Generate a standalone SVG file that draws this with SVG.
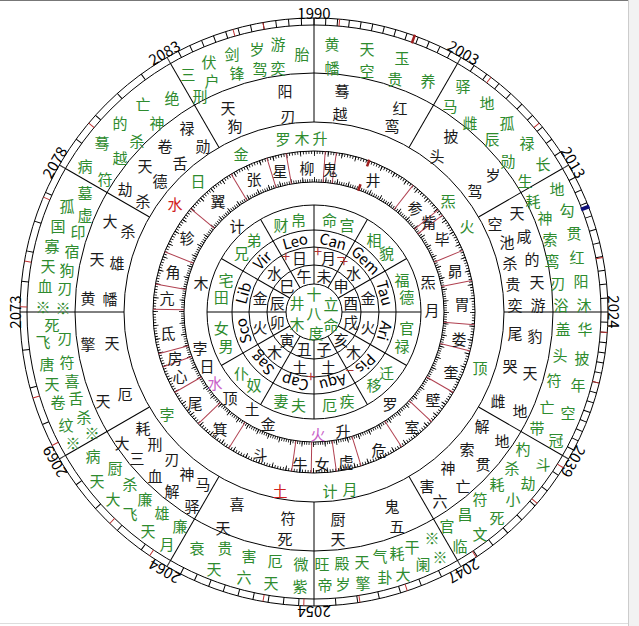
<svg xmlns="http://www.w3.org/2000/svg" width="639" height="626" viewBox="0 0 639 626">
<style>
text{font-family:"Noto Sans CJK SC","Liberation Sans",sans-serif;font-size:15px;text-anchor:middle;dominant-baseline:central}
.g{fill:#2e8b2e}
.k{fill:#1a1a1a}
.r{fill:#d02020}
.p{fill:#c860c8}
.c{fill:none;stroke:#000;stroke-width:1}
.ln{stroke:#000;stroke-width:1}
.mb{stroke:#b04050;stroke-width:1}
.tk{fill:none;stroke:#000;stroke-width:7}
.yr{font-family:"Liberation Serif",serif;font-size:15px;fill:#000}
.z{font-family:"Liberation Sans",sans-serif;font-size:12px;fill:#000}
.s15{font-size:14px}
.pm{font-family:"Liberation Sans",sans-serif;font-size:9px;fill:#b03030}
</style>
<rect width="639" height="626" fill="#fff"/>
<g id="frame">
<line x1="0" y1="0.5" x2="639" y2="0.5" stroke="#777"/>
<rect x="628" y="0" width="11" height="626" fill="#f2f2f2"/>
<line x1="628.5" y1="0" x2="628.5" y2="626" stroke="#ccc"/>
<line x1="0" y1="623.5" x2="628" y2="623.5" stroke="#ddd"/>
</g>
<g id="rings" transform="translate(314 312)">
<circle class="c" r="294"/>
<circle class="c" r="287"/>
<circle class="c" r="239"/>
<circle class="c" r="190"/>
<circle class="c" r="161"/>
<circle class="c" r="130"/>
<circle class="c" r="107"/>
<circle class="c" r="82"/>
<circle class="c" r="65"/>
<circle class="c" r="47"/>
<circle class="c" r="28"/>
<path class="tk" stroke-dasharray="1 10.7" stroke-dashoffset="0.5" d="M0 -290.5A290.5 290.5 0 0 1 145.25 -251.58"/>
<path class="tk" stroke-dasharray="1 14.21" stroke-dashoffset="0.5" d="M145.25 -251.58A290.5 290.5 0 0 1 251.58 -145.25"/>
<path class="tk" stroke-dasharray="1 12.83" stroke-dashoffset="0.5" d="M251.58 -145.25A290.5 290.5 0 0 1 290.5 0"/>
<path class="tk" stroke-dasharray="1 9.14" stroke-dashoffset="0.5" d="M290.5 0A290.5 290.5 0 0 1 251.58 145.25"/>
<path class="tk" stroke-dasharray="1 18.01" stroke-dashoffset="0.5" d="M251.58 145.25A290.5 290.5 0 0 1 145.25 251.58"/>
<path class="tk" stroke-dasharray="1 20.73" stroke-dashoffset="0.5" d="M145.25 251.58A290.5 290.5 0 0 1 0 290.5"/>
<path class="tk" stroke-dasharray="1 14.21" stroke-dashoffset="0.5" d="M0 290.5A290.5 290.5 0 0 1 -145.25 251.58"/>
<path class="tk" stroke-dasharray="1 29.42" stroke-dashoffset="0.5" d="M-145.25 251.58A290.5 290.5 0 0 1 -251.58 145.25"/>
<path class="tk" stroke-dasharray="1 37.03" stroke-dashoffset="0.5" d="M-251.58 145.25A290.5 290.5 0 0 1 -290.5 0"/>
<path class="tk" stroke-dasharray="1 29.42" stroke-dashoffset="0.5" d="M-290.5 0A290.5 290.5 0 0 1 -251.58 -145.25"/>
<path class="tk" stroke-dasharray="1 29.42" stroke-dashoffset="0.5" d="M-251.58 -145.25A290.5 290.5 0 0 1 -145.25 -251.58"/>
<path class="tk" stroke-dasharray="1 11.68" stroke-dashoffset="0.5" d="M-145.25 -251.58A290.5 290.5 0 0 1 0 -290.5"/>
<circle r="159.5" fill="none" stroke="#000" stroke-width="3" pathLength="360" stroke-dasharray="0.3 0.7"/>
<circle r="158.5" fill="none" stroke="#000" stroke-width="5" pathLength="360" stroke-dasharray="0.3 4.7"/>
<circle r="131.5" fill="none" stroke="#000" stroke-width="3" pathLength="360" stroke-dasharray="0.35 0.65"/>
<circle r="132.5" fill="none" stroke="#000" stroke-width="5" pathLength="360" stroke-dasharray="0.35 4.65"/>
</g>
<g id="connectors" transform="translate(314 312)">
<g class="ln">
<line x1="0" y1="-190" x2="0" y2="-294"/>
<line x1="0" y1="-190" x2="0" y2="-287" transform="rotate(30)"/>
<line x1="0" y1="-190" x2="0" y2="-287" transform="rotate(60)"/>
<line x1="0" y1="-190" x2="0" y2="-287" transform="rotate(90)"/>
<line x1="0" y1="-190" x2="0" y2="-287" transform="rotate(120)"/>
<line x1="0" y1="-190" x2="0" y2="-287" transform="rotate(150)"/>
<line x1="0" y1="-190" x2="0" y2="-287" transform="rotate(180)"/>
<line x1="0" y1="-190" x2="0" y2="-287" transform="rotate(210)"/>
<line x1="0" y1="-190" x2="0" y2="-287" transform="rotate(240)"/>
<line x1="0" y1="-190" x2="0" y2="-287" transform="rotate(270)"/>
<line x1="0" y1="-190" x2="0" y2="-287" transform="rotate(300)"/>
<line x1="0" y1="-190" x2="0" y2="-287" transform="rotate(330)"/>
<line x1="0" y1="-28" x2="0" y2="-107"/>
<line x1="0" y1="-28" x2="0" y2="-107" transform="rotate(30)"/>
<line x1="0" y1="-28" x2="0" y2="-107" transform="rotate(60)"/>
<line x1="0" y1="-28" x2="0" y2="-107" transform="rotate(90)"/>
<line x1="0" y1="-28" x2="0" y2="-107" transform="rotate(120)"/>
<line x1="0" y1="-28" x2="0" y2="-107" transform="rotate(150)"/>
<line x1="0" y1="-28" x2="0" y2="-107" transform="rotate(180)"/>
<line x1="0" y1="-28" x2="0" y2="-107" transform="rotate(210)"/>
<line x1="0" y1="-28" x2="0" y2="-107" transform="rotate(240)"/>
<line x1="0" y1="-28" x2="0" y2="-107" transform="rotate(270)"/>
<line x1="0" y1="-28" x2="0" y2="-107" transform="rotate(300)"/>
<line x1="0" y1="-28" x2="0" y2="-107" transform="rotate(330)"/>
</g>
<g class="mb">
<line x1="0" y1="-130" x2="0" y2="-161" transform="rotate(94.5)"/>
<line x1="0" y1="-130" x2="0" y2="-161" transform="rotate(78.7)"/>
<line x1="0" y1="-130" x2="0" y2="-161" transform="rotate(67.5)"/>
<line x1="0" y1="-130" x2="0" y2="-161" transform="rotate(53)"/>
<line x1="0" y1="-130" x2="0" y2="-161" transform="rotate(50.5)"/>
<line x1="0" y1="-130" x2="0" y2="-161" transform="rotate(38)"/>
<line x1="0" y1="-130" x2="0" y2="-161" transform="rotate(8)"/>
<line x1="0" y1="-130" x2="0" y2="-161" transform="rotate(4)"/>
<line x1="0" y1="-130" x2="0" y2="-161" transform="rotate(-10)"/>
<line x1="0" y1="-130" x2="0" y2="-161" transform="rotate(-17)"/>
<line x1="0" y1="-130" x2="0" y2="-161" transform="rotate(-31)"/>
<line x1="0" y1="-130" x2="0" y2="-161" transform="rotate(-50)"/>
<line x1="0" y1="-130" x2="0" y2="-161" transform="rotate(-68)"/>
<line x1="0" y1="-130" x2="0" y2="-161" transform="rotate(-80)"/>
<line x1="0" y1="-130" x2="0" y2="-161" transform="rotate(-89)"/>
<line x1="0" y1="-130" x2="0" y2="-161" transform="rotate(-105)"/>
<line x1="0" y1="-130" x2="0" y2="-161" transform="rotate(-110)"/>
<line x1="0" y1="-130" x2="0" y2="-161" transform="rotate(-120)"/>
<line x1="0" y1="-130" x2="0" y2="-161" transform="rotate(-134)"/>
<line x1="0" y1="-130" x2="0" y2="-161" transform="rotate(-148)"/>
<line x1="0" y1="-130" x2="0" y2="-161" transform="rotate(-172)"/>
<line x1="0" y1="-130" x2="0" y2="-161" transform="rotate(-179)"/>
<line x1="0" y1="-130" x2="0" y2="-161" transform="rotate(172)"/>
<line x1="0" y1="-130" x2="0" y2="-161" transform="rotate(163)"/>
<line x1="0" y1="-130" x2="0" y2="-161" transform="rotate(147)"/>
<line x1="0" y1="-130" x2="0" y2="-161" transform="rotate(133)"/>
<line x1="0" y1="-130" x2="0" y2="-161" transform="rotate(120)"/>
<line x1="0" y1="-130" x2="0" y2="-161" transform="rotate(104)"/>
</g>
<g stroke="#a02020" stroke-width="2.5">
<line x1="0" y1="-155" x2="0" y2="-162" transform="rotate(20)"/>
<line x1="0" y1="-129" x2="0" y2="-136" transform="rotate(20)"/>
<line x1="0" y1="-286" x2="0" y2="-295" transform="rotate(20)"/>
</g>
<g stroke="#c03030" stroke-width="1">
<line x1="0" y1="-287" x2="0" y2="-294" transform="rotate(-10)"/>
<line x1="0" y1="-287" x2="0" y2="-294" transform="rotate(-16)"/>
<line x1="0" y1="-287" x2="0" y2="-294" transform="rotate(5)"/>
<line x1="0" y1="-287" x2="0" y2="-294" transform="rotate(-50)"/>
<line x1="0" y1="-287" x2="0" y2="-294" transform="rotate(-67)"/>
<line x1="0" y1="-287" x2="0" y2="-294" transform="rotate(-80)"/>
<line x1="0" y1="-287" x2="0" y2="-294" transform="rotate(-89)"/>
<line x1="0" y1="-287" x2="0" y2="-294" transform="rotate(37)"/>
<line x1="0" y1="-287" x2="0" y2="-294" transform="rotate(50)"/>
<line x1="0" y1="-287" x2="0" y2="-294" transform="rotate(79.3)"/>
<line x1="0" y1="-287" x2="0" y2="-294" transform="rotate(94)"/>
<line x1="0" y1="-287" x2="0" y2="-294" transform="rotate(104)"/>
<line x1="0" y1="-287" x2="0" y2="-294" transform="rotate(122)"/>
<line x1="0" y1="-287" x2="0" y2="-294" transform="rotate(130.6)"/>
<line x1="0" y1="-287" x2="0" y2="-294" transform="rotate(146.5)"/>
<line x1="0" y1="-287" x2="0" y2="-294" transform="rotate(161.5)"/>
<line x1="0" y1="-287" x2="0" y2="-294" transform="rotate(171)"/>
<line x1="0" y1="-287" x2="0" y2="-294" transform="rotate(182)"/>
<line x1="0" y1="-287" x2="0" y2="-294" transform="rotate(190)"/>
<line x1="0" y1="-287" x2="0" y2="-294" transform="rotate(214)"/>
<line x1="0" y1="-287" x2="0" y2="-294" transform="rotate(224)"/>
<line x1="0" y1="-287" x2="0" y2="-294" transform="rotate(243)"/>
<line x1="0" y1="-287" x2="0" y2="-294" transform="rotate(253)"/>
</g>
<line x1="0" y1="-286" x2="0" y2="-295" transform="rotate(69)" stroke="#10107a" stroke-width="4"/>
</g>
<g id="years" class="yr">
<text transform="translate(314 12)">1990</text>
<text transform="translate(464 52) rotate(30)">2003</text>
<text transform="translate(574 162) rotate(60)">2013</text>
<text transform="translate(614 312) rotate(90)">2024</text>
<text transform="translate(574 462) rotate(120)">2039</text>
<text transform="translate(464 572) rotate(150)">2047</text>
<text transform="translate(314 612) rotate(180)">2054</text>
<text transform="translate(164 572) rotate(210)">2064</text>
<text transform="translate(54 462) rotate(240)">2069</text>
<text transform="translate(14 312) rotate(270)">2073</text>
<text transform="translate(54 162) rotate(300)">2078</text>
<text transform="translate(164 52) rotate(330)">2083</text>
</g>
<g id="outer-green" class="g">
<text x="188" y="73">三</text><text x="200" y="95">刑</text><text x="209" y="61">伏</text><text x="212" y="80">户</text><text x="232" y="53">剑</text><text x="237" y="72">锋</text><text x="257" y="48">岁</text><text x="260" y="68">驾</text><text x="278" y="43">游</text><text x="278" y="67">奕</text><text x="302" y="53">胎</text>
<text x="332" y="43">黄</text><text x="332" y="67">幡</text><text x="367" y="48">天</text><text x="367" y="70">空</text><text x="402" y="57">玉</text><text x="395" y="78">贵</text><text x="428" y="80">养</text>
<text x="463" y="85">驿</text><text x="450" y="105">马</text><text x="487" y="102">地</text><text x="470" y="122">雌</text><text x="507" y="122">孤</text><text x="492" y="138">辰</text><text x="527" y="142">禄</text><text x="508" y="160">勋</text><text x="543" y="163">长</text><text x="525" y="180">生</text>
<text x="557" y="188">地</text><text x="533" y="200">耗</text><text x="567" y="209">勾</text><text x="545" y="217">神</text><text x="574" y="232">贯</text><text x="550" y="238">索</text><text x="577" y="256">红</text><text x="552" y="260">鸾</text><text x="581" y="280">阳</text><text x="558" y="282">刃</text><text x="584" y="304">沐</text><text x="561" y="304">浴</text>
<text x="585" y="328">华</text><text x="563" y="328">盖</text><text x="582" y="357">披</text><text x="560" y="354">头</text><text x="578" y="384">年</text><text x="554" y="379">符</text><text x="568" y="412">空</text><text x="547" y="406">亡</text><text x="556" y="439">冠</text><text x="537" y="427">带</text>
<text x="543" y="463">斗</text><text x="523" y="448">杓</text><text x="528" y="482">劫</text><text x="512" y="467">杀</text><text x="513" y="498">小</text><text x="497" y="483">耗</text><text x="497" y="517">死</text><text x="480" y="498">符</text><text x="480" y="533">文</text><text x="465" y="513">昌</text><text x="460" y="545">临</text><text x="447" y="525">官</text>
<text x="440" y="556">※</text><text x="432" y="537">※</text><text x="423" y="563">阑</text><text x="412" y="546">干</text><text x="403" y="573">大</text><text x="397" y="552">耗</text><text x="385" y="576">卦</text><text x="380" y="555">气</text><text x="363" y="582">擎</text><text x="362" y="561">天</text><text x="343" y="583">岁</text><text x="342" y="562">殿</text><text x="325" y="584">帝</text><text x="322" y="563">旺</text>
<text x="300" y="585">紫</text><text x="301" y="563">微</text><text x="271" y="582">天</text><text x="275" y="560">厄</text><text x="244" y="576">六</text><text x="249" y="555">害</text><text x="214" y="568">天</text><text x="225" y="547">贵</text><text x="197" y="547">衰</text>
<text x="167" y="543">月</text><text x="180" y="525">廉</text><text x="148" y="530">天</text><text x="162" y="512">雄</text><text x="130" y="513">飞</text><text x="145" y="498">廉</text><text x="113" y="498">大</text><text x="130" y="483">杀</text><text x="97" y="480">天</text><text x="115" y="467">厨</text><text x="93" y="455">病</text>
<text x="73" y="442">※</text><text x="92" y="432">※</text><text x="66" y="424">纹</text><text x="84" y="416">杀</text><text x="58" y="401">卷</text><text x="76" y="397">舌</text><text x="52" y="383">天</text><text x="72" y="380">喜</text><text x="47" y="363">唐</text><text x="67" y="361">符</text><text x="43" y="341">飞</text><text x="65" y="337">刃</text><text x="52" y="324">死</text>
<text x="43" y="306">※</text><text x="63" y="307">※</text><text x="45" y="285">血</text><text x="65" y="287">刃</text><text x="48" y="265">天</text><text x="67" y="269">狗</text><text x="52" y="245">寡</text><text x="72" y="250">宿</text><text x="58" y="225">国</text><text x="78" y="231">印</text><text x="67" y="205">孤</text><text x="85" y="214">虚</text><text x="85" y="192">墓</text>
<text x="85" y="165">病</text><text x="105" y="178">符</text><text x="102" y="142">蓦</text><text x="120" y="157">越</text><text x="120" y="122">的</text><text x="137" y="140">杀</text><text x="143" y="103">亡</text><text x="157" y="122">神</text><text x="172" y="97">绝</text>
</g>
<g id="black-ring" class="k">
<text x="228" y="107">天</text><text x="235" y="125">狗</text><text x="285" y="90">阳</text><text x="288" y="115">刃</text>
<text x="342" y="90">蓦</text><text x="340" y="113">越</text><text x="400" y="107">红</text><text x="392" y="125">鸾</text>
<text x="451" y="135">披</text><text x="437" y="155">头</text><text x="493" y="174">岁</text><text x="475" y="190">驾</text>
<text x="517" y="212">天</text><text x="495" y="223">空</text><text x="524" y="235">咸</text><text x="507" y="241">池</text><text x="532" y="258">的</text><text x="510" y="262">杀</text><text x="537" y="281">天</text><text x="513" y="283">贵</text><text x="538" y="304">游</text><text x="515" y="304">奕</text>
<text x="535" y="335">豹</text><text x="515" y="332">尾</text><text x="530" y="372">天</text><text x="510" y="365">哭</text><text x="520" y="410">地</text><text x="498" y="400">雌</text>
<text x="502" y="440">地</text><text x="482" y="425">解</text><text x="483" y="463">贯</text><text x="467" y="448">索</text><text x="463" y="485">亡</text><text x="448" y="467">神</text><text x="440" y="500">六</text><text x="427" y="485">害</text>
<text x="397" y="525">五</text><text x="392" y="505">鬼</text><text x="338" y="538">天</text><text x="338" y="518">厨</text>
<text x="285" y="538">死</text><text x="288" y="517">符</text><text x="223" y="527">天</text><text x="237" y="503">喜</text>
<text x="192" y="505">驿</text><text x="203" y="483">马</text><text x="172" y="490">解</text><text x="187" y="473">神</text><text x="155" y="475">血</text><text x="172" y="458">刃</text><text x="137" y="457">三</text><text x="155" y="443">刑</text><text x="122" y="442">大</text><text x="143" y="427">耗</text>
<text x="103" y="400">天</text><text x="125" y="393">厄</text><text x="88" y="343">擎</text><text x="112" y="342">天</text>
<text x="88" y="297">黄</text><text x="110" y="298">幡</text><text x="97" y="258">天</text><text x="117" y="262">雄</text><text x="110" y="220">大</text><text x="128" y="230">杀</text>
<text x="125" y="188">劫</text><text x="143" y="200">杀</text><text x="145" y="165">天</text><text x="160" y="180">德</text><text x="165" y="145">卷</text><text x="180" y="162">舌</text><text x="187" y="127">禄</text><text x="203" y="145">勋</text>
</g>
<g id="outer-planets">
<text class="g" x="283" y="138">罗</text><text class="g" x="302" y="137">木</text><text class="g" x="320" y="137">升</text><text class="g" x="241" y="153">金</text><text class="g" x="198" y="180">日</text><text class="r" x="175" y="203">水</text><text class="g" x="448" y="200">炁</text><text class="g" x="467" y="225">火</text><text class="g" x="480" y="367">顶</text><text class="g" x="167" y="413">孛</text><text class="r" x="280" y="490">土</text><text class="g" x="330" y="490">计</text><text class="g" x="350" y="488">月</text>
</g>
<g id="mansions" class="k">
<text x="330" y="168">鬼</text><text x="307" y="167">柳</text><text x="280" y="170">星</text><text x="254" y="178">张</text><text x="218" y="200">翼</text><text x="187" y="237">轸</text><text x="173" y="271">角</text><text x="167" y="297">亢</text><text x="168" y="332">氐</text><text x="175" y="357">房</text><text x="180" y="375">心</text><text x="195" y="402">尾</text><text x="220" y="428">箕</text><text x="260" y="453">斗</text><text x="300" y="463">牛</text><text x="322" y="463">女</text><text x="346" y="461">虚</text><text x="379" y="449">危</text><text x="412" y="426">室</text><text x="433" y="399">壁</text><text x="451" y="371">奎</text><text x="459" y="338">娄</text><text x="462" y="303">胃</text><text x="455" y="270">昴</text><text x="442" y="238">毕</text><text x="429" y="221">觜</text><text x="415" y="207">参</text><text x="373" y="179">井</text>
</g>
<g id="inner-planets">
<text class="k" x="237" y="225">计</text><text class="k" x="201" y="282">木</text><text class="k" x="200" y="347">孛</text><text class="k" x="207" y="365">日</text><text class="p" x="215" y="382">水</text><text class="k" x="230" y="397">顶</text><text class="k" x="252" y="408">土</text><text class="k" x="268" y="423">金</text><text class="p" x="318" y="433">火</text><text class="k" x="343" y="430">升</text><text class="k" x="390" y="403">罗</text><text class="k" x="428" y="281">炁</text><text class="k" x="432" y="309">月</text>
</g>
<g id="palaces" class="g">
<text x="281" y="224">财</text><text x="298.5" y="219">帛</text><text x="329.5" y="219">命</text><text x="347" y="224">宫</text><text x="374" y="239.5">相</text><text x="386.5" y="252">貌</text><text x="402" y="279">福</text><text x="406.7" y="296.5">德</text><text x="406.7" y="327.5">官</text><text x="402" y="345">禄</text><text x="386.5" y="372">迁</text><text x="374" y="384.5">移</text><text x="347" y="400">疾</text><text x="329.5" y="404.7">厄</text><text x="298.5" y="404.7">夫</text><text x="281" y="400">妻</text><text x="254" y="384.5">奴</text><text x="241.5" y="372">仆</text><text x="226" y="345">男</text><text x="221.3" y="327.5">女</text><text x="221.3" y="296.5">田</text><text x="226" y="279">宅</text><text x="241.5" y="252">兄</text><text x="254" y="239.5">弟</text>
</g>
<g id="zodiac" class="z">
<text transform="translate(294.8 240.5) rotate(-15)">Leo</text>
<text transform="translate(333.2 240.5) rotate(15)">Can</text>
<text transform="translate(366.3 259.7) rotate(45)">Gem</text>
<text transform="translate(385.5 292.8) rotate(75)">Tau</text>
<text transform="translate(385.5 331.2) rotate(105)">Ari</text>
<text transform="translate(366.3 364.3) rotate(135)">Pis</text>
<text transform="translate(333.2 383.5) rotate(165)">Aqu</text>
<text transform="translate(294.8 383.5) rotate(195)">Cap</text>
<text transform="translate(261.7 364.3) rotate(225)">Sag</text>
<text transform="translate(242.5 331.2) rotate(255)">Sco</text>
<text transform="translate(242.5 292.8) rotate(285)">Lib</text>
<text transform="translate(261.7 259.7) rotate(315)">Vir</text>
</g>
<g id="rulers" class="k s15">
<text x="274.4" y="272.4">水</text><text x="299.5" y="257.9">日</text><text x="328.5" y="257.9">月</text><text x="353.6" y="272.4">水</text><text x="368.1" y="297.5">金</text><text x="368.1" y="326.5">火</text><text x="353.6" y="351.6">木</text><text x="328.5" y="366.1">土</text><text x="299.5" y="366.1">土</text><text x="274.4" y="351.6">木</text><text x="259.9" y="326.5">火</text><text x="259.9" y="297.5">金</text>
</g>
<g id="marks" class="pm">
<text x="286" y="255">+</text><text x="318" y="250">+</text><text x="341" y="256">−</text><text x="344" y="260">+</text><text x="311" y="375">+</text><text x="350" y="369">−</text>
</g>
<g id="branches" class="k s15">
<text x="287" y="285">巳</text><text x="304" y="275.3">午</text><text x="324" y="275.3">未</text><text x="341" y="285">申</text><text x="350.7" y="302.2">酉</text><text x="350.7" y="321.8">戌</text><text x="341" y="339">亥</text><text x="324" y="348.7">子</text><text x="304" y="348.7">丑</text><text x="287" y="339">寅</text><text x="277.3" y="321.8">卯</text><text x="277.3" y="302.2">辰</text>
</g>
<g id="center" class="g s15">
<text x="314" y="293">十</text><text x="314" y="312">八</text><text x="316" y="332">度</text><text x="297" y="302">井</text><text x="297" y="323">木</text><text x="331" y="303">立</text><text x="331" y="324">命</text>
</g>
</svg>
